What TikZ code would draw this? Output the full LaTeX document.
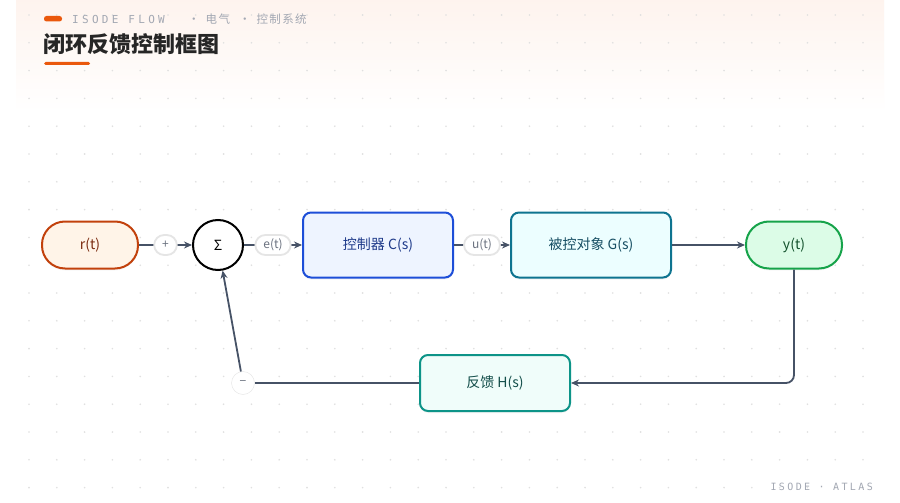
\documentclass[tikz,border=0pt]{standalone}
\usepackage{fontspec}
\setmainfont{Noto Sans CJK SC}
\newfontfamily\brandfont[LetterSpace=30]{DejaVu Sans Mono}
\newfontfamily\footfont[LetterSpace=24]{DejaVu Sans Mono}
\newfontfamily\crumbfont[LetterSpace=12]{Noto Sans CJK SC}
\usepackage{tikz}
\usetikzlibrary{positioning}
\usetikzlibrary{arrows.meta}
\usetikzlibrary{shadows}

\definecolor{accent}{HTML}{EA580C}
\definecolor{wire}{HTML}{465266}
\definecolor{tagtext}{HTML}{6B7280}
\definecolor{headgray}{HTML}{A3A8B3}
\definecolor{reffill}{HTML}{FFF4E8}
\definecolor{refdraw}{HTML}{C2410C}
\definecolor{reftext}{HTML}{7C2D12}
\definecolor{ctlfill}{HTML}{EEF4FF}
\definecolor{ctldraw}{HTML}{1D4ED8}
\definecolor{ctltext}{HTML}{1E3A8A}
\definecolor{plfill}{HTML}{ECFEFF}
\definecolor{pldraw}{HTML}{0E7490}
\definecolor{pltext}{HTML}{164E63}
\definecolor{outfill}{HTML}{DCFCE7}
\definecolor{outdraw}{HTML}{16A34A}
\definecolor{outtext}{HTML}{14532D}
\definecolor{fbfill}{HTML}{F0FDFA}
\definecolor{fbdraw}{HTML}{0D9488}
\definecolor{fbtext}{HTML}{134E4A}

\begin{document}
\begin{tikzpicture}[
    x=1pt, y=-1pt,
    every node/.style={font=\fontsize{14}{16}\selectfont},
    pill/.style={rectangle, rounded corners=23pt, draw, line width=2pt, minimum width=96pt, minimum height=47pt,
      drop shadow={opacity=0.06, shadow xshift=0pt, shadow yshift=-2pt}},
    block/.style={rectangle, rounded corners=8pt, draw, line width=2pt, minimum height=65pt,
      drop shadow={opacity=0.08, shadow xshift=0pt, shadow yshift=-2pt}},
    tag/.style={rectangle, rounded corners=10pt, draw=black!10, fill=white, text=tagtext, inner xsep=8pt,
      minimum height=20pt, font=\fontsize{12}{13}\selectfont},
    flow/.style={draw=wire, line width=1.8pt, -{Stealth[length=8pt, width=7pt]}}
  ]

  % page, header band and dot grid
  \useasboundingbox (0,0) rectangle (900,503);
  \fill[white] (0,0) rectangle (900,503);
  \shade[top color=accent!7, bottom color=white] (16,0) rectangle (884,112);
  \foreach \i in {0,...,30} {
      \foreach \j in {0,...,17} {
          \fill[black!12] (29+27.8*\i, 15+27.8*\j) circle (0.9pt);
        }
    }

  \fill[accent, rounded corners=2.5pt] (44,16) rectangle (62,21.5);
  \node[anchor=west, inner sep=0pt, text=headgray, font=\brandfont\fontsize{11}{12}\selectfont] (brand) at (72,19) {ISODE FLOW};
  \node[anchor=west, inner sep=0pt, text=headgray, font=\crumbfont\fontsize{11.5}{12}\selectfont] (crumb) at (188,19) {·\hspace{6pt}电气\hspace{9pt}·\hspace{6pt}控制系统};
  \node[anchor=west, inner sep=0pt, text=black!85, font=\bfseries\fontsize{22}{24}\selectfont] (title) at (43,44) {闭环反馈控制框图};
  \fill[accent, rounded corners=1.5pt] (44,62) rectangle (90,65);

  \node[anchor=east, inner sep=0pt, text=headgray, font=\footfont\fontsize{10}{11}\selectfont] (foot) at (873,487) {ISODE · ATLAS};

  % loop
  \node[pill, fill=reffill, draw=refdraw, text=reftext] (ref) at (90,245) {r(t)};
  \node[circle, draw=black, fill=white, line width=2pt, minimum size=50pt, inner sep=0pt] (sum) at (218,245) {Σ};
  \node[block, fill=ctlfill, draw=ctldraw, text=ctltext, minimum width=150pt] (ctl) at (378,245) {控制器 C(s)};
  \node[block, fill=plfill, draw=pldraw, text=pltext, minimum width=160pt] (plant) at (591,245) {被控对象 G(s)};
  \node[pill, fill=outfill, draw=outdraw, text=outtext] (out) at (794,245) {y(t)};
  \node[block, fill=fbfill, draw=fbdraw, text=fbtext, minimum width=150pt, minimum height=56pt] (fb) at (495,383) {反馈 H(s)};
  \node[circle, draw=black!10, fill=white, minimum size=23pt, inner sep=0pt, text=tagtext, font=\fontsize{12}{13}\selectfont] (neg) at (243,383) {−};

  \draw[flow] (ref) -- node[tag] {+} (sum);
  \draw[flow] (sum) -- node[tag] {e(t)} (ctl);
  \draw[flow] (ctl) -- node[tag] {u(t)} (plant);
  \draw[flow] (plant) -- (out);
  \draw[flow, rounded corners=8pt] (out) |- (fb);
  \draw[draw=wire, line width=1.8pt] (fb) -- (neg);
  \draw[flow] (neg) -- (sum);

\end{tikzpicture}
\end{document}
